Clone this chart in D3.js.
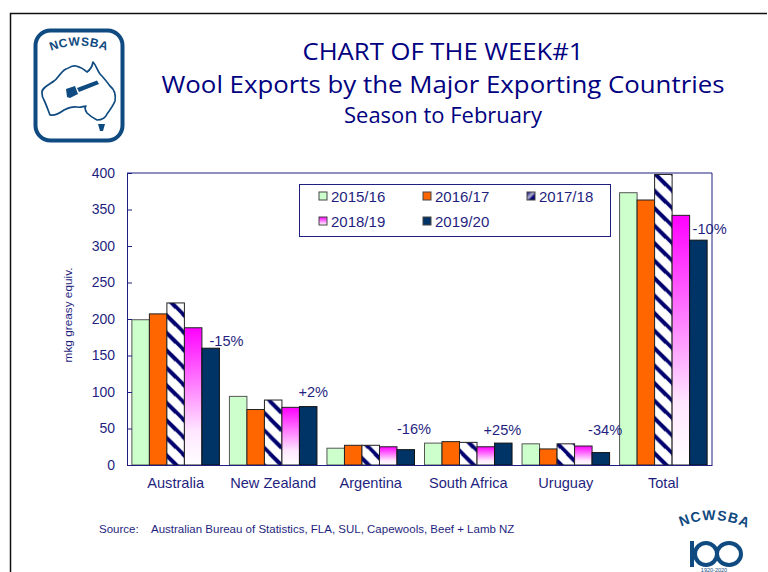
<!DOCTYPE html>
<html><head><meta charset="utf-8">
<script src="https://cdn.jsdelivr.net/npm/d3@7"></script>
<style>html,body{margin:0;padding:0;background:#fff}svg{display:block}text{font-family:"Liberation Sans",Arial,sans-serif}</style>
</head><body><div id="c"></div>
<script>
const categories=["Australia","New Zealand","Argentina","South Africa","Uruguay","Total"];
const seasons=["2015/16","2016/17","2017/18","2018/19","2019/20"];
const v2015=[199,94,23,30,29,373];
const v2016=[207,76,27,32,22,363];
const v2017=[222,89,27,31,29,398];
const v2018=[188,79,25,25,26,342];
const v2019=[160,80,21,30,17,308];
const series=[v2015,v2016,v2017,v2018,v2019];
const changes=["-15%","+2%","-16%","+25%","-34%","-10%"];
const ticks=[0,50,100,150,200,250,300,350,400];
const ink="#1f1f80";
const svg=d3.select("#c").append("svg").attr("width",768).attr("height",572);
const defs=svg.append("defs");
const pat=defs.append("pattern").attr("id","hatch").attr("patternUnits","userSpaceOnUse").attr("width",17.5).attr("height",17.5);
pat.append("rect").attr("width",17.5).attr("height",17.5).attr("fill","#fff");
pat.append("path").attr("d","M-4,4.5L13,21.5M-4,-13L21.5,12.5M4.5,-4L21.5,13").attr("stroke","#00006e").attr("stroke-width",3.6).attr("fill","none");
const grad=defs.append("linearGradient").attr("id","pink").attr("x1",0).attr("x2",0).attr("y1",0).attr("y2",1);
grad.append("stop").attr("offset","0").attr("stop-color","#ff00ff");
grad.append("stop").attr("offset","0.75").attr("stop-color","#ffe6ff");
grad.append("stop").attr("offset","1").attr("stop-color","#ffffff");
const fills=["#ccffcc","#ff6600","url(#hatch)","url(#pink)","#003366"];
const strokes=["#555","#222","#222","#222","#111"];

// page frame
svg.append("path").attr("d","M10.5,572V13.5H767").attr("fill","none").attr("stroke","#111").attr("stroke-width",1.5);

// titles
const tt=svg.append("g").attr("fill","#000080").attr("text-anchor","middle");
tt.append("text").attr("x",443).attr("y",60).style("font-family","'Open Sans'").attr("font-size",24).attr("textLength",281).attr("lengthAdjust","spacingAndGlyphs").text("CHART OF THE WEEK#1");
tt.append("text").attr("x",443).attr("y",93).style("font-family","'Open Sans'").attr("font-size",24).attr("textLength",563).attr("lengthAdjust","spacingAndGlyphs").text("Wool Exports by the Major Exporting Countries");
tt.append("text").attr("x",443).attr("y",123).style("font-family","'Open Sans'").attr("font-size",21).attr("textLength",198).attr("lengthAdjust","spacingAndGlyphs").text("Season to February");

// scales
const x=d3.scaleBand().domain(categories).range([127,712]).paddingInner(10/97.5).paddingOuter(0.05);
const bx=d3.scaleBand().domain(d3.range(5)).range([0,x.bandwidth()]);
const y=d3.scaleLinear().domain([0,400]).range([465,173]);

// plot outline
svg.append("path").attr("d",`M${x.range()[0]},${y(400)}H${x.range()[1]}V${y(0)}`).attr("fill","none").attr("stroke",ink).attr("stroke-width",1);

// bars
const grp=svg.append("g").selectAll("g").data(series).join("g");
grp.each(function(vals,si){
  d3.select(this).selectAll("rect").data(vals).join("rect")
   .attr("x",(d,i)=>x(categories[i])+bx(si))
   .attr("y",d=>y(d)).attr("width",bx.bandwidth()).attr("height",d=>y(0)-y(d))
   .attr("fill",fills[si]).attr("stroke",strokes[si]).attr("stroke-width",1);
});

// axes
const ay=svg.append("g").attr("transform","translate(127,0)").call(d3.axisLeft(y).tickValues(ticks).tickSizeInner(-5).tickSizeOuter(0).tickPadding(12));
ay.selectAll("text").attr("font-size",14).attr("fill",ink);
ay.selectAll("line,path").attr("stroke",ink);
const ax=svg.append("g").attr("transform","translate(0,465)").call(d3.axisBottom(x).tickSize(0));
ax.selectAll("text").attr("font-size",14.6).attr("fill",ink).attr("dy",20);
ax.selectAll("path").attr("stroke",ink).attr("stroke-width",1.2);
svg.append("text").attr("transform","translate(72,315) rotate(-90)").attr("text-anchor","middle").attr("font-size",11.8).attr("fill",ink).text("mkg greasy equiv.");

// change labels: anchored to the last series
svg.append("g").selectAll("text").data(changes).join("text")
 .attr("x",(d,i)=>x(categories[i])+bx(4)+[7.5,-1,0,-11,-4,3][i])
 .attr("y",(d,i)=>y(v2019[i])+[-2,-10,-16,-8,-18,-6][i])
 .attr("font-size",14.6).attr("fill",ink).text(d=>d);

// legend
svg.append("rect").attr("x",299.5).attr("y",184.5).attr("width",311).attr("height",52).attr("fill","#fff").attr("stroke",ink).attr("stroke-width",1);
const lx=[319,423,527],ly=[197,222];
const lg=svg.append("g").selectAll("g").data(seasons).join("g")
 .attr("transform",(d,i)=>`translate(${lx[i%3]},${ly[Math.floor(i/3)]})`);
const legFills=["#ccffcc","#ff6600","url(#lhatch)","url(#lpink)","#003366"];
const lh=defs.append("linearGradient").attr("id","lhatch").attr("x1",0).attr("x2",1).attr("y1",0).attr("y2",1);
lh.append("stop").attr("offset","0").attr("stop-color","#00006e");
lh.append("stop").attr("offset","0.45").attr("stop-color","#b0b0d0");
lh.append("stop").attr("offset","0.7").attr("stop-color","#00006e");
const lp=defs.append("linearGradient").attr("id","lpink").attr("x1",0).attr("x2",0).attr("y1",0).attr("y2",1);
lp.append("stop").attr("offset","0").attr("stop-color","#ff00ff");
lp.append("stop").attr("offset","1").attr("stop-color","#fff");
lg.append("rect").attr("x",0).attr("y",-5).attr("width",8).attr("height",8).attr("fill",(d,i)=>legFills[i]).attr("stroke","#444").attr("stroke-width",1);
lg.append("text").attr("x",12).attr("y",5).attr("font-size",15).attr("fill",ink).text(d=>d);

// source
const src=svg.append("g").attr("font-size",11.5).attr("fill",ink);
src.append("text").attr("x",99).attr("y",533).text("Source:");
src.append("text").attr("x",151).attr("y",533).text("Australian Bureau of Statistics, FLA, SUL, Capewools, Beef + Lamb NZ");

// NCWSBA badge (top left)
const navy="#0f4a80";
const b=svg.append("g");
b.append("rect").attr("x",35.5).attr("y",30.5).attr("width",87).attr("height",110).attr("rx",15).attr("fill","#fff").attr("stroke",navy).attr("stroke-width",4);
defs.append("path").attr("id","arcA").attr("d","M46,53Q79,38 112,53");
b.append("text").attr("font-size",12).attr("font-weight","bold").attr("fill",navy).attr("letter-spacing",0.6)
 .append("textPath").attr("href","#arcA").attr("startOffset","50%").attr("text-anchor","middle").text("NCWSBA");
b.append("path").attr("fill","none").attr("stroke",navy).attr("stroke-width",1.7).attr("stroke-linejoin","round")
 .attr("d","M42,93C41,88 50,84 54,81C58,79 60,72 66,69C70,68 71,65 76,66C80,67 84,69 87,72C90,70 92,68 93,62C96,65 97,70 100,74C104,78 107,82 110,86C115,90 116,95 115,101C113,106 110,110 107,114C105,119 101,120 97,120C93,118 90,116 87,113C85,110 84,108 86,106C83,106 81,108 77,107C72,106 68,108 64,110C60,113 55,116 50,115C48,110 46,104 44,100C42,97 42,95 42,93Z");
b.append("path").attr("fill",navy).attr("d","M97,80.5L99,84L79,92L77,88Z");
b.append("path").attr("fill",navy).attr("d","M66,89L75,86L78,94L70,98L67,97Z");
b.append("path").attr("fill",navy).attr("d","M98,124L105,124L103,131L100,131Z");

// NCWSBA 100 badge (bottom right)
const c=svg.append("g");
defs.append("path").attr("id","arcB").attr("d","M676,529Q714,510 753,531");
c.append("text").attr("font-size",14).attr("font-weight","bold").attr("fill",navy).attr("letter-spacing",1)
 .append("textPath").attr("href","#arcB").attr("startOffset","50%").attr("text-anchor","middle").text("NCWSBA");
c.append("rect").attr("x",690).attr("y",541).attr("width",4).attr("height",26).attr("fill",navy);
c.append("ellipse").attr("cx",706).attr("cy",554).attr("rx",11).attr("ry",11).attr("fill","none").attr("stroke",navy).attr("stroke-width",4);
c.append("ellipse").attr("cx",729).attr("cy",554).attr("rx",12).attr("ry",11).attr("fill","none").attr("stroke",navy).attr("stroke-width",4);
c.append("text").attr("x",714).attr("y",571.5).attr("text-anchor","middle").attr("font-size",5.5).attr("fill",navy).text("1920-2020");
</script></body></html>
